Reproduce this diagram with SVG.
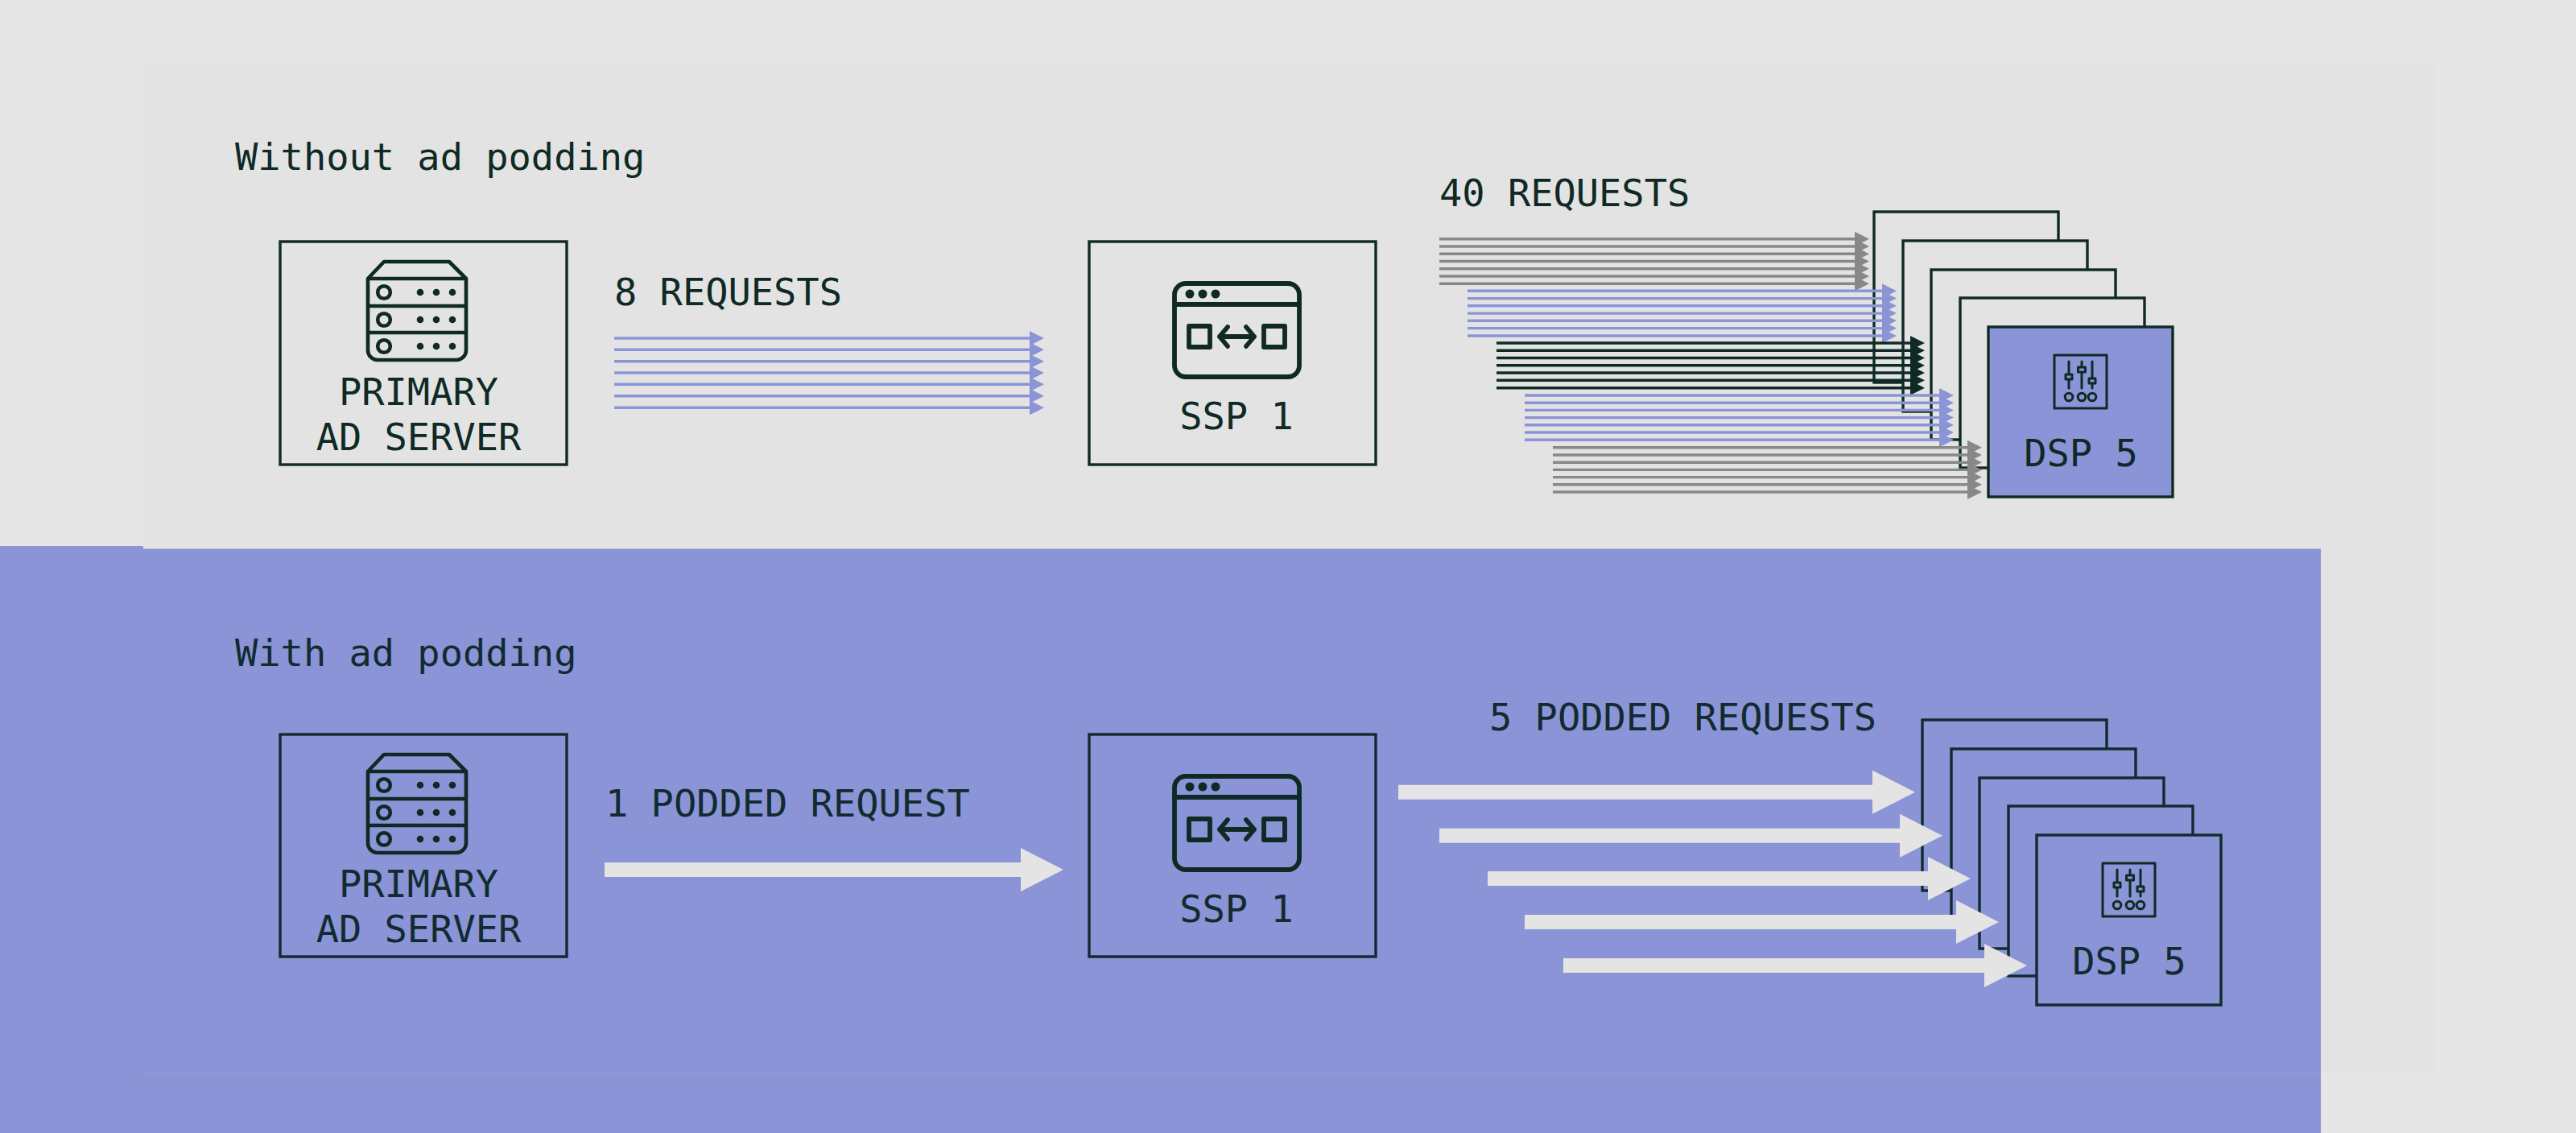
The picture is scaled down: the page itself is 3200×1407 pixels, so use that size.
<svg xmlns="http://www.w3.org/2000/svg" xmlns:xlink="http://www.w3.org/1999/xlink" width="3200" height="1407" viewBox="0 0 3200 1407">
<style>
text{font-family:"DejaVu Sans Mono","Liberation Mono",monospace;font-size:47px;fill:#0f2a24}
.lower text{fill:#112b30}
.m{text-anchor:middle}
.box{fill:none;stroke:#0f2a24;stroke-width:3.4}
.lower .box{stroke:#112b30}
.stack{fill:#e3e3e3;stroke:#0f2a24;stroke-width:3.4}
.lower .stack{fill:#8a94d6;stroke:#112b30}
.top5{fill:#8a94d6}
.ic{fill:none;stroke:#0f2a24;stroke-linejoin:round;stroke-linecap:round}
.icf{fill:#0f2a24}
.b{stroke:#8a94d6;stroke-width:3.4;marker-end:url(#hb)}
.g{stroke:#888888;stroke-width:3.4;marker-end:url(#hg)}
.d{stroke:#0f2a24;stroke-width:3.4;marker-end:url(#hd)}
.w{stroke:#e4e4e4;stroke-width:18;marker-end:url(#hw)}
</style>
<defs>
<marker id="hb" markerUnits="userSpaceOnUse" markerWidth="18" markerHeight="18" refX="0" refY="9" orient="auto"><path d="M0 0L18 9L0 18Z" fill="#8a94d6"/></marker>
<marker id="hg" markerUnits="userSpaceOnUse" markerWidth="18" markerHeight="18" refX="0" refY="9" orient="auto"><path d="M0 0L18 9L0 18Z" fill="#888888"/></marker>
<marker id="hd" markerUnits="userSpaceOnUse" markerWidth="18" markerHeight="18" refX="0" refY="9" orient="auto"><path d="M0 0L18 9L0 18Z" fill="#0f2a24"/></marker>
<marker id="hw" markerUnits="userSpaceOnUse" markerWidth="53" markerHeight="54" refX="0" refY="27" orient="auto"><path d="M0 0L53 27L0 54Z" fill="#e4e4e4"/></marker>
<g id="server">
<path class="ic" stroke-width="4.6" d="M457 346L477 325H558L579 346V435a12 12 0 0 1-12 12H469a12 12 0 0 1-12-12ZM457 346H579M457 380H579M457 413H579"/>
<g class="ic" stroke-width="4.6"><circle cx="477" cy="363" r="7.800"/><circle cx="477" cy="397" r="7.800"/><circle cx="477" cy="430" r="7.800"/></g>
<g class="icf"><circle cx="522" cy="363" r="4.300"/><circle cx="542" cy="363" r="4.300"/><circle cx="562" cy="363" r="4.300"/><circle cx="522" cy="397" r="4.300"/><circle cx="542" cy="397" r="4.300"/><circle cx="562" cy="397" r="4.300"/><circle cx="522" cy="430" r="4.300"/><circle cx="542" cy="430" r="4.300"/><circle cx="562" cy="430" r="4.300"/></g>
</g>
<g id="browser">
<rect class="ic" stroke-width="5.800" x="1459" y="352" width="155" height="116" rx="14"/>
<path class="ic" stroke-width="5.800" d="M1459 378H1614M1515 418H1558M1525 406L1515 418L1525 430M1548 406L1558 418L1548 430"/>
<g class="icf"><circle cx="1478" cy="365" r="5.500"/><circle cx="1494" cy="365" r="5.500"/><circle cx="1510" cy="365" r="5.500"/></g>
<rect class="ic" stroke-width="5.800" x="1477" y="405" width="26" height="26"/>
<rect class="ic" stroke-width="5.800" x="1570" y="405" width="26" height="26"/>
</g>
<g id="mixer">
<rect class="ic" stroke-width="3" x="2552" y="441" width="65" height="66"/>
<path class="ic" stroke-width="3" d="M2570 449V482M2586 449V482M2599 449V482"/>
<g class="ic" stroke-width="3"><rect x="2566" y="465" width="8" height="6" fill="#8a94d6"/><rect x="2581.500" y="456" width="9" height="6" fill="#8a94d6"/><rect x="2595" y="470" width="8" height="6" fill="#8a94d6"/><circle cx="2570" cy="493" r="4.800"/><circle cx="2586" cy="493" r="4.800"/><circle cx="2599" cy="493" r="4.800"/></g>
</g>
</defs>

<rect id="background" width="3200" height="1407" fill="#e6e6e6"/>
<rect id="panel" x="178" y="80" width="2847" height="1253" fill="#e3e3e3"/>
<path id="lower-band" d="M0 678H178V681.500H2883V1407H0Z" fill="#8a94d6"/>
<rect id="band-seam" x="178" y="1332.500" width="2705" height="1.500" fill="#959fdc"/>

<g id="upper">
<text id="title-without" x="292" y="211">Without ad podding</text>
<g id="node-server-a"><rect class="box" x="348" y="300" width="356" height="277"/><use href="#server"/><text class="m" x="520" y="503">PRIMARY</text><text class="m" x="520" y="559">AD SERVER</text></g>
<g id="node-ssp-a"><rect class="box" x="1353" y="300" width="356" height="277"/><use href="#browser"/><text class="m" x="1536" y="533">SSP 1</text></g>
<g id="label-8"><text x="763" y="379">8 REQUESTS</text></g>
<g id="label-40"><text x="1788" y="256">40 REQUESTS</text></g>
<g id="node-dsp-a1"><rect class="stack" x="2328" y="263" width="229" height="212"/></g>
<g id="node-dsp-a2"><rect class="stack" x="2364" y="299" width="229" height="212"/></g>
<g id="node-dsp-a3"><rect class="stack" x="2399" y="335" width="229" height="211"/></g>
<g id="node-dsp-a4"><rect class="stack" x="2435" y="370" width="229" height="211"/></g>
<g id="node-dsp-a5"><rect class="stack top5" x="2470" y="406" width="229" height="211"/><use href="#mixer"/><text class="m" x="2585" y="579">DSP 5</text></g>
<g id="connectors-upper">
<g class="set-8"><line class="b" x1="763" y1="420" x2="1279" y2="420"/><line class="b" x1="763" y1="434.300" x2="1279" y2="434.300"/><line class="b" x1="763" y1="448.700" x2="1279" y2="448.700"/><line class="b" x1="763" y1="463" x2="1279" y2="463"/><line class="b" x1="763" y1="477.300" x2="1279" y2="477.300"/><line class="b" x1="763" y1="491.700" x2="1279" y2="491.700"/><line class="b" x1="763" y1="506.300" x2="1279" y2="506.300"/></g>
<g class="set-40a"><line class="g" x1="1788" y1="296.700" x2="2304" y2="296.700"/><line class="g" x1="1788" y1="306" x2="2304" y2="306"/><line class="g" x1="1788" y1="315.200" x2="2304" y2="315.200"/><line class="g" x1="1788" y1="324.500" x2="2304" y2="324.500"/><line class="g" x1="1788" y1="333.700" x2="2304" y2="333.700"/><line class="g" x1="1788" y1="343" x2="2304" y2="343"/><line class="g" x1="1788" y1="352.300" x2="2304" y2="352.300"/></g>
<g class="set-40b"><line class="b" x1="1823" y1="361.300" x2="2338" y2="361.300"/><line class="b" x1="1823" y1="370.600" x2="2338" y2="370.600"/><line class="b" x1="1823" y1="379.800" x2="2338" y2="379.800"/><line class="b" x1="1823" y1="389.100" x2="2338" y2="389.100"/><line class="b" x1="1823" y1="398.300" x2="2338" y2="398.300"/><line class="b" x1="1823" y1="407.600" x2="2338" y2="407.600"/><line class="b" x1="1823" y1="417" x2="2338" y2="417"/></g>
<g class="set-40c"><line class="d" x1="1859" y1="426" x2="2373" y2="426"/><line class="d" x1="1859" y1="435.300" x2="2373" y2="435.300"/><line class="d" x1="1859" y1="444.500" x2="2373" y2="444.500"/><line class="d" x1="1859" y1="453.800" x2="2373" y2="453.800"/><line class="d" x1="1859" y1="463" x2="2373" y2="463"/><line class="d" x1="1859" y1="472.300" x2="2373" y2="472.300"/><line class="d" x1="1859" y1="481.700" x2="2373" y2="481.700"/></g>
<g class="set-40d"><line class="b" x1="1894" y1="491" x2="2409" y2="491"/><line class="b" x1="1894" y1="500.200" x2="2409" y2="500.200"/><line class="b" x1="1894" y1="509.400" x2="2409" y2="509.400"/><line class="b" x1="1894" y1="518.600" x2="2409" y2="518.600"/><line class="b" x1="1894" y1="527.800" x2="2409" y2="527.800"/><line class="b" x1="1894" y1="537" x2="2409" y2="537"/><line class="b" x1="1894" y1="546.300" x2="2409" y2="546.300"/></g>
<g class="set-40e"><line class="g" x1="1929" y1="555.700" x2="2444" y2="555.700"/><line class="g" x1="1929" y1="565" x2="2444" y2="565"/><line class="g" x1="1929" y1="574.200" x2="2444" y2="574.200"/><line class="g" x1="1929" y1="583.400" x2="2444" y2="583.400"/><line class="g" x1="1929" y1="592.600" x2="2444" y2="592.600"/><line class="g" x1="1929" y1="601.800" x2="2444" y2="601.800"/><line class="g" x1="1929" y1="611" x2="2444" y2="611"/></g>
</g>
</g>

<g id="lower" class="lower">
<text id="title-with" x="292" y="827">With ad podding</text>
<g id="node-server-b"><rect class="box" x="348" y="912" width="356" height="276"/><use href="#server" y="612"/><text class="m" x="520" y="1114">PRIMARY</text><text class="m" x="520" y="1170">AD SERVER</text></g>
<g id="node-ssp-b"><rect class="box" x="1353" y="912" width="356" height="276"/><use href="#browser" y="612"/><text class="m" x="1536" y="1145">SSP 1</text></g>
<g id="label-1"><text x="752" y="1014">1 PODDED REQUEST</text></g>
<g id="label-5"><text x="1850" y="907">5 PODDED REQUESTS</text></g>
<g id="node-dsp-b1"><rect class="stack" x="2388" y="894" width="229" height="212"/></g>
<g id="node-dsp-b2"><rect class="stack" x="2424" y="930" width="229" height="212"/></g>
<g id="node-dsp-b3"><rect class="stack" x="2459" y="966" width="229" height="212"/></g>
<g id="node-dsp-b4"><rect class="stack" x="2495" y="1001" width="229" height="211"/></g>
<g id="node-dsp-b5"><rect class="stack" x="2530" y="1037" width="229" height="211"/><use href="#mixer" x="60" y="631"/><text class="m" x="2645" y="1210">DSP 5</text></g>
<g id="connectors-lower">
<line class="w" x1="751" y1="1080" x2="1268" y2="1080"/>
<line class="w" x1="1737" y1="983.700" x2="2326" y2="983.700"/>
<line class="w" x1="1788" y1="1037.700" x2="2360" y2="1037.700"/>
<line class="w" x1="1848" y1="1091" x2="2395" y2="1091"/>
<line class="w" x1="1894" y1="1145" x2="2430" y2="1145"/>
<line class="w" x1="1942" y1="1199" x2="2465" y2="1199"/>
</g>
</g>
</svg>
